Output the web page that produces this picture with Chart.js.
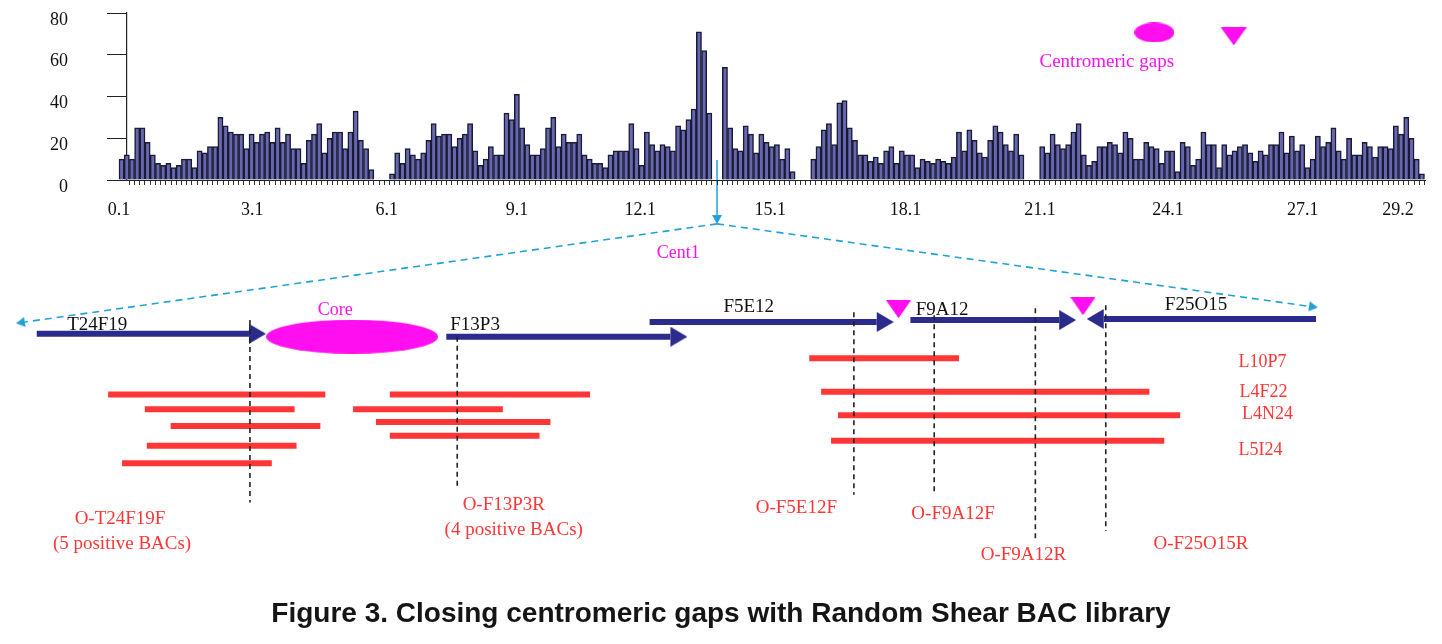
<!DOCTYPE html>
<html>
<head>
<meta charset="utf-8">
<script src="https://cdn.jsdelivr.net/npm/chart.js@4.4.1/dist/chart.umd.min.js"></script>
<style>
  html, body { margin: 0; padding: 0; background: #fff; }
  #wrap { position: relative; width: 1442px; height: 644px; overflow: hidden; }
  canvas { position: absolute; left: 0; top: 0; }
  #caption {
    position: absolute; left: 0; top: 597px; width: 1442px; text-align: center;
    font: bold 28px "Liberation Sans", Arial, sans-serif; color: #151515; line-height: 32px;
  }
</style>
</head>
<body>
<div id="wrap">
  <canvas id="diagram" width="1442" height="644"></canvas>
  <canvas id="coverage" width="1442" height="215"></canvas>
  <div id="caption">Figure 3. Closing centromeric gaps with Random Shear BAC library</div>
</div>
<script>
// ---- coverage histogram (clones per bin), one array per contig run ----
const runStartBins = [0, 52, 116, 133, 177];
const run1Counts = [10,12,10,25,25,18,12,8,7,8,6,7,10,10,6,14,13,16,16,30,26,23,22,22,15,22,18,22,23,18,25,18,22,15,15,8,19,22,27,13,20,23,23,15,23,33,19,15,5];
const run2Counts = [3,13,8,15,12,10,13,19,27,21,22,22,16,20,22,27,14,7,10,16,12,12,32,29,41,25,17,12,12,15,25,30,16,22,18,18,22,12,10,8,8,6,12,14,14,14,27,15,7,23,17,14,17,16,14,26,24,29,34,71,62,32];
const run3Counts = [54,25,15,14,26,22,13,22,18,16,17,10,15,4];
const run4Counts = [10,16,24,27,17,37,38,25,19,12,12,9,11,8,14,16,8,14,12,12,6,10,9,8,10,9,8,11,23,14,24,19,13,11,19,26,23,17,14,22,12];
const run5Counts = [16,13,22,17,15,17,23,27,12,7,9,16,16,18,17,13,23,20,10,10,18,16,15,8,14,14,4,18,16,7,10,23,17,17,6,17,12,14,16,17,13,9,14,12,17,17,23,13,21,14,17,6,10,21,16,18,25,14,10,20,12,12,18,16,11,16,16,15,26,22,30,20,10,3];
const runCounts = [run1Counts, run2Counts, run3Counts, run4Counts, run5Counts];

// x tick labels (Mb) and the bin where each one sits
const mbTickLabels = ['0.1','3.1','6.1','9.1','12.1','15.1','18.1','21.1','24.1','27.1','29.2'];
const mbTickBins = [-0.5, 25.1, 51.0, 76.0, 99.7, 124.7, 150.7, 176.6, 201.2, 227.1, 245.4];
const totalBins = 251;

// ---- centromere schematic (x: map units, y: track units) ----
const contigNames = ['T24F19', 'F13P3', 'F5E12', 'F9A12', 'F25O15'];
const contigStart = [3.1, 44.4, 64.9, 91.2, 132.1];
const contigHeadBase = [24.5, 67.0, 87.8, 106.2, 110.7];
const contigTrack = [33.4, 33.7, 32.2, 32.0, 31.9];
const contigLabelX = [9.2, 47.3, 74.9, 94.4, 120.0];
const contigLabelY = [32.5, 32.5, 30.7, 31.0, 30.5];

const cloneFrom = [10.3, 14.0, 16.6, 14.2, 11.7, 38.7, 35.0, 37.3, 38.7, 81.0, 82.2, 83.9, 83.2];
const cloneTo   = [32.2, 29.1, 31.7, 29.3, 26.8, 58.9, 50.1, 54.9, 53.8, 96.1, 115.3, 118.4, 116.8];
const cloneTrack = [39.6, 41.1, 42.8, 44.8, 46.6, 39.6, 41.1, 42.4, 43.8, 35.9, 39.3, 41.7, 44.3];

const probeX = [24.6, 45.5, 85.5, 93.6, 103.8, 110.9];
const probeTop = [32.0, 33.7, 31.2, 31.5, 30.8, 30.5];
const probeBottom = [50.6, 49.2, 49.8, 49.8, 54.5, 53.5];

const probeNames = ['O-T24F19F', '(5 positive BACs)', 'O-F13P3R', '(4 positive BACs)', 'O-F5E12F', 'O-F9A12F', 'O-F9A12R', 'O-F25O15R'];
const probeLabelX = [11.5, 11.7, 50.2, 51.2, 79.7, 95.5, 102.6, 120.5];
const probeLabelY = [52.3, 54.8, 50.8, 53.4, 51.2, 51.8, 55.9, 54.8];

const cloneNames = ['L10P7', 'L4F22', 'L4N24', 'L5I24'];
const cloneLabelX = [126.7, 126.8, 127.2, 126.5];
const cloneLabelY = [36.3, 39.4, 41.6, 45.3];

const gapMarkX = [90.0, 108.6];
const gapMarkY = [30.9, 30.6];
const coreX = 34.9, coreY = 33.7;
const legendOvalX = 115.8, legendOvalY = 2.7;
const legendTriX = 123.8, legendTriY = 3.1;

const cent1Top = [71.7, 15.7];
const cent1Fork = [71.7, 22.2];
const cent1LeftEnd = [1.9, 32.2];
const cent1RightEnd = [131.4, 30.6];

const magentaTexts = ['Core', 'Cent1', 'Centromeric gaps'];
const magentaTextX = [33.2, 67.8, 111.0];
const magentaTextY = [31.0, 25.2, 5.7];

// ---- colours ----
const NAVY = '#2b2b8c', RED = '#ff3636', MAGENTA = '#ff0ff0', CYAN = '#22a2d4';

Chart.defaults.font.family = '"Liberation Serif", "Times New Roman", serif';
Chart.defaults.animation = false;

// small canvases used as point styles
function shape(w, h, draw) {
  const c = document.createElement('canvas');
  c.width = w; c.height = h;
  const g = c.getContext('2d');
  draw(g, w, h);
  return c;
}
const ellipse = (rx, ry, col) => shape(rx * 2, ry * 2, (g) => {
  g.fillStyle = col; g.beginPath(); g.ellipse(rx, ry, rx, ry, 0, 0, Math.PI * 2); g.fill();
});
const downTri = (w, h, col) => shape(w, h, (g) => {
  g.fillStyle = col; g.beginPath(); g.moveTo(0, 0); g.lineTo(w, 0); g.lineTo(w / 2, h); g.closePath(); g.fill();
});
// arrow head whose base is at the canvas centre and tip at the right edge
const head = (len, half, col) => shape(len * 2, half * 2, (g) => {
  g.fillStyle = col; g.beginPath(); g.moveTo(len, 0); g.lineTo(len * 2, half); g.lineTo(len, half * 2); g.closePath(); g.fill();
});

// scales here are laid out by hand, so drop the automatic label padding
function noPad(s) { s.paddingLeft = 0; s.paddingRight = 0; s.paddingTop = 0; s.paddingBottom = 0; }

// ================= coverage bar chart =================
const barPoints = [];
runCounts.forEach((counts, r) => {
  counts.forEach((v, k) => barPoints.push({ x: runStartBins[r] + k, y: v }));
});

new Chart(document.getElementById('coverage'), {
  type: 'bar',
  data: {
    datasets: [{
      data: barPoints,
      backgroundColor: '#6767ad',
      borderColor: '#1a1a36',
      borderWidth: 1.5,
      barPercentage: 1,
      categoryPercentage: 1,
      clip: false
    }]
  },
  options: {
    responsive: false,
    layout: { padding: { top: 13, right: 17, left: 0, bottom: 0 } },
    plugins: { legend: { display: false }, tooltip: { enabled: false } },
    scales: {
      x: {
        type: 'linear', min: 1.04, max: 250.6, offset: false,
        afterBuildTicks: (s) => { s.ticks = mbTickBins.map(v => ({ value: v })); },
        afterFit: (s) => { s.height = 35; noPad(s); },
        ticks: { autoSkip: false, maxRotation: 0, padding: 11, color: '#111', font: { size: 18 },
                 callback: (v, i) => mbTickLabels[i] },
        grid: { display: false },
        border: { color: '#222', width: 1 }
      },
      xMinor: {
        type: 'linear', axis: 'x', position: { y: 0 }, min: 1.04, max: 250.6, offset: false,
        afterBuildTicks: (s) => { s.ticks = Array.from({ length: totalBins }, (_, i) => ({ value: i })); },
        afterFit: noPad,
        ticks: { display: false },
        grid: { drawOnChartArea: false, drawTicks: true, tickLength: 5, color: '#333', lineWidth: 1 },
        border: { display: false }
      },
      y: {
        min: 0, max: 80,
        afterFit: (s) => { s.width = 127; noPad(s); },
        ticks: { stepSize: 20, padding: 39, labelOffset: 7, color: '#111', font: { size: 18 } },
        grid: { drawOnChartArea: false, tickLength: 20, color: '#222', lineWidth: 1 },
        border: { color: '#222', width: 1.2 }
      }
    }
  }
});

// ================= centromere schematic =================
const textLayer = {
  id: 'textLayer',
  afterDatasetsDraw(chart, args, opts) {
    const { ctx, scales: { x, y } } = chart;
    ctx.save();
    ctx.textAlign = 'center';
    ctx.textBaseline = 'middle';
    opts.items.forEach(t => {
      ctx.font = t.size + 'px "Liberation Serif", "Times New Roman", serif';
      ctx.fillStyle = t.color;
      ctx.fillText(t.text, x.getPixelForValue(t.x), y.getPixelForValue(t.y));
    });
    ctx.restore();
  }
};

const textItems = [];
contigNames.forEach((t, i) => textItems.push({ text: t, x: contigLabelX[i], y: contigLabelY[i], color: '#111', size: 19 }));
probeNames.forEach((t, i) => textItems.push({ text: t, x: probeLabelX[i], y: probeLabelY[i], color: RED, size: 19 }));
cloneNames.forEach((t, i) => textItems.push({ text: t, x: cloneLabelX[i], y: cloneLabelY[i], color: RED, size: 18 }));
magentaTexts.forEach((t, i) => textItems.push({ text: t, x: magentaTextX[i], y: magentaTextY[i], color: MAGENTA, size: i === 2 ? 19 : 18 }));

const seg = (x1, y1, x2, y2, extra) => Object.assign({
  data: [{ x: x1, y: y1 }, { x: x2, y: y2 }],
  showLine: true, pointRadius: 0, borderCapStyle: 'butt'
}, extra);

const diagramSets = [];
// probe positions (dashed)
probeX.forEach((px, i) => diagramSets.push(seg(px, probeTop[i], px, probeBottom[i],
  { borderColor: '#222', borderWidth: 1.6, borderDash: [5, 4], order: 0 })));
// BAC clones (red bars)
cloneFrom.forEach((a, i) => diagramSets.push(seg(a, cloneTrack[i], cloneTo[i], cloneTrack[i],
  { borderColor: RED, borderWidth: 6, order: 3 })));
// contig shafts
contigStart.forEach((a, i) => diagramSets.push(seg(a, contigTrack[i], contigHeadBase[i], contigTrack[i],
  { borderColor: NAVY, borderWidth: 6, order: 1 })));
// contig arrow heads
diagramSets.push({
  data: contigHeadBase.map((x, i) => ({ x, y: contigTrack[i] })),
  pointStyle: head(17, 10, NAVY), pointRadius: 5,
  pointRotation: contigHeadBase.map((x, i) => (x > contigStart[i] ? 0 : 180)),
  order: 1
});
// core gap and gap marks
diagramSets.push({ data: [{ x: coreX, y: coreY }], pointStyle: ellipse(86, 17, MAGENTA), pointRadius: 5, order: 1 });
diagramSets.push({ data: gapMarkX.map((x, i) => ({ x, y: gapMarkY[i] })), pointStyle: downTri(25, 18, MAGENTA), pointRadius: 5, order: 1 });
// legend symbols
diagramSets.push({ data: [{ x: legendOvalX, y: legendOvalY }], pointStyle: ellipse(20, 10, MAGENTA), pointRadius: 5, order: 1 });
diagramSets.push({ data: [{ x: legendTriX, y: legendTriY }], pointStyle: downTri(26, 18, MAGENTA), pointRadius: 5, order: 1 });
// Cent1 zoom-out lines
diagramSets.push(seg(cent1Top[0], cent1Top[1], cent1Fork[0], cent1Fork[1] - 0.9, { borderColor: CYAN, borderWidth: 1.5, order: 1 }));
diagramSets.push(seg(cent1Fork[0], cent1Fork[1], cent1LeftEnd[0], cent1LeftEnd[1], { borderColor: CYAN, borderWidth: 1.6, borderDash: [7, 5], order: 1 }));
diagramSets.push(seg(cent1Fork[0], cent1Fork[1], cent1RightEnd[0], cent1RightEnd[1], { borderColor: CYAN, borderWidth: 1.6, borderDash: [7, 5], order: 1 }));
diagramSets.push({
  data: [{ x: cent1Fork[0], y: cent1Fork[1] - 0.9 }, { x: cent1LeftEnd[0], y: cent1LeftEnd[1] }, { x: cent1RightEnd[0], y: cent1RightEnd[1] }],
  pointStyle: head(9, 5, CYAN), pointRadius: 5, pointRotation: [90, 171.8, 8.1], order: 1
});

new Chart(document.getElementById('diagram'), {
  type: 'scatter',
  data: { datasets: diagramSets },
  options: {
    responsive: false,
    layout: { padding: 0 },
    plugins: { legend: { display: false }, tooltip: { enabled: false }, textLayer: { items: textItems } },
    scales: {
      x: { type: 'linear', min: 0, max: 144.2, display: false },
      y: { type: 'linear', min: 0, max: 64.4, reverse: true, display: false }
    }
  },
  plugins: [textLayer]
});
</script>
</body>
</html>
